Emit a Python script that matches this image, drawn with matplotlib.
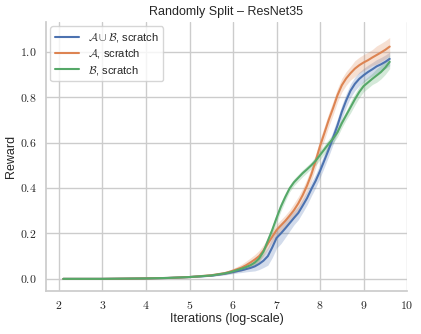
import matplotlib
matplotlib.use("Agg")
import matplotlib.pyplot as plt
import seaborn as sns
from matplotlib.ticker import FuncFormatter

# ============================================================================
# DATA
# ============================================================================

iterations = [2.1, 3.0, 4.0, 4.5, 5.0, 5.5,
              5.8, 5.9, 6.0, 6.1, 6.2, 6.3, 6.4, 6.5, 6.6, 6.7,
              6.8, 6.9, 7.0, 7.1, 7.2, 7.3, 7.4, 7.5, 7.6, 7.7,
              7.8, 7.9, 8.0, 8.1, 8.2, 8.3, 8.4, 8.5, 8.6, 8.7,
              8.8, 8.9, 9.0, 9.1, 9.2, 9.3, 9.4, 9.5, 9.6]

union_mean = [0.0, 0.0, 0.002, 0.004, 0.008, 0.014,
              0.022, 0.026, 0.030, 0.034, 0.038, 0.043, 0.048, 0.055, 0.066, 0.080,
              0.100, 0.138, 0.180, 0.200, 0.222, 0.245, 0.268, 0.290, 0.322, 0.355,
              0.395, 0.432, 0.475, 0.522, 0.570, 0.622, 0.675, 0.735, 0.785, 0.828,
              0.858, 0.880, 0.896, 0.910, 0.922, 0.935, 0.944, 0.955, 0.968]
union_err = [0.0, 0.0, 0.001, 0.001, 0.002, 0.003,
             0.005, 0.006, 0.007, 0.008, 0.010, 0.012, 0.015, 0.020, 0.025, 0.030,
             0.040, 0.045, 0.045, 0.045, 0.040, 0.035, 0.030, 0.030, 0.030, 0.030,
             0.030, 0.030, 0.030, 0.030, 0.030, 0.030, 0.030, 0.030, 0.030, 0.030,
             0.030, 0.030, 0.030, 0.030, 0.030, 0.030, 0.030, 0.030, 0.030]

a_mean = [0.0, 0.0, 0.002, 0.004, 0.008, 0.016,
          0.025, 0.030, 0.036, 0.043, 0.050, 0.060, 0.072, 0.085, 0.100, 0.125,
          0.155, 0.185, 0.215, 0.235, 0.255, 0.278, 0.302, 0.332, 0.368, 0.410,
          0.460, 0.520, 0.585, 0.642, 0.700, 0.752, 0.808, 0.852, 0.882, 0.905,
          0.925, 0.940, 0.952, 0.962, 0.974, 0.985, 0.996, 1.008, 1.022]
a_err = [0.0, 0.0, 0.001, 0.001, 0.002, 0.003,
         0.006, 0.008, 0.010, 0.012, 0.015, 0.018, 0.020, 0.022, 0.025, 0.025,
         0.025, 0.025, 0.025, 0.025, 0.025, 0.025, 0.030, 0.030, 0.030, 0.030,
         0.030, 0.030, 0.030, 0.030, 0.030, 0.030, 0.030, 0.030, 0.030, 0.030,
         0.035, 0.035, 0.035, 0.035, 0.035, 0.040, 0.040, 0.040, 0.040]

b_mean = [0.0, 0.0, 0.002, 0.004, 0.008, 0.015,
          0.024, 0.028, 0.033, 0.039, 0.045, 0.052, 0.060, 0.072, 0.090, 0.120,
          0.168, 0.215, 0.268, 0.318, 0.360, 0.398, 0.425, 0.445, 0.465, 0.482,
          0.500, 0.520, 0.545, 0.570, 0.595, 0.617, 0.645, 0.685, 0.720, 0.755,
          0.790, 0.822, 0.848, 0.864, 0.880, 0.895, 0.910, 0.930, 0.955]
b_err = [0.0, 0.0, 0.001, 0.001, 0.002, 0.003,
         0.004, 0.005, 0.006, 0.007, 0.008, 0.009, 0.010, 0.011, 0.012, 0.013,
         0.015, 0.018, 0.020, 0.020, 0.018, 0.015, 0.015, 0.015, 0.015, 0.015,
         0.015, 0.020, 0.020, 0.020, 0.020, 0.020, 0.020, 0.020, 0.020, 0.025,
         0.025, 0.025, 0.025, 0.025, 0.025, 0.030, 0.030, 0.030, 0.030]

labels = [r"$\mathcal{A} \cup \mathcal{B}$, scratch",
          r"$\mathcal{A}$, scratch",
          r"$\mathcal{B}$, scratch"]

x_ticks = [2, 3, 4, 5, 6, 7, 8, 9, 10]
y_ticks = [0.0, 0.2, 0.4, 0.6, 0.8, 1.0]

# ============================================================================
# STYLE
# ============================================================================

sns.set_theme(style="whitegrid")
plt.rcParams['font.family'] = ['Liberation Sans', 'DejaVu Sans']
plt.rcParams['mathtext.fontset'] = 'cm'

colors = sns.color_palette("deep")[:3]

# ============================================================================
# PLOT
# ============================================================================

fig = plt.figure(figsize=(4.21, 3.34), dpi=100)
ax = fig.add_axes([0.109, 0.129, 0.858, 0.805])

series = [(union_mean, union_err), (a_mean, a_err), (b_mean, b_err)]
for (mean, err), color, label in zip(series, colors, labels):
    lower = [m - e for m, e in zip(mean, err)]
    upper = [m + e for m, e in zip(mean, err)]
    ax.fill_between(iterations, lower, upper, color=color, alpha=0.25, linewidth=0)
    ax.plot(iterations, mean, color=color, linewidth=1.5, label=label)

ax.set_xlim(1.7, 10.0)
ax.set_ylim(-0.053, 1.13)
ax.set_xticks(x_ticks)
ax.set_yticks(y_ticks)
ax.xaxis.set_major_formatter(FuncFormatter(lambda v, p: r"$%d$" % v))
ax.yaxis.set_major_formatter(FuncFormatter(lambda v, p: r"$%.1f$" % v))
ax.tick_params(labelsize=8.5, pad=0.5)

ax.set_title("Randomly Split \u2013 ResNet35", fontsize=9, pad=5)
ax.set_xlabel("Iterations (log-scale)", fontsize=9, labelpad=1)
ax.set_ylabel("Reward", fontsize=9, labelpad=2)

sns.despine(ax=ax)
for side in ['left', 'bottom']:
    ax.spines[side].set_color('#cccccc')

ax.legend(loc='upper left', fontsize=8, frameon=True, handlelength=2.2,
          borderaxespad=0.4, labelspacing=0.3)

fig.savefig("out.png", dpi=100)
